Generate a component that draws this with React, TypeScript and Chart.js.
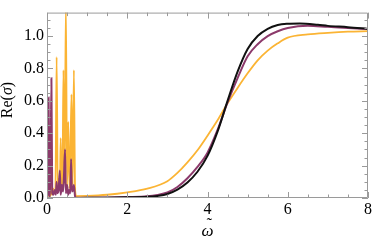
import React, { useEffect, useRef } from "react";
import { Chart, registerables } from "chart.js";

Chart.register(...registerables);

// ---- data ----
const blackX = [0, 0.5, 1, 1.5, 2, 2.5, 2.75, 3, 3.25, 3.5, 3.75, 4, 4.25, 4.5, 4.75, 5, 5.25, 5.5, 5.75, 6, 6.3, 6.75, 7, 7.5, 8];
const blackY = [0, 0, 0.001, 0.002, 0.004, 0.007, 0.013, 0.025, 0.052, 0.096, 0.162, 0.26, 0.41, 0.6, 0.78, 0.92, 1.0, 1.045, 1.068, 1.076, 1.078, 1.07, 1.063, 1.055, 1.044];

const purpleX = [0, 0.02, 0.04, 0.06, 0.08, 0.11, 0.13, 0.16, 0.19, 0.22, 0.24, 0.26, 0.29, 0.32, 0.34, 0.37, 0.4, 0.42, 0.45, 0.47, 0.5, 0.53, 0.55, 0.58, 0.6, 0.62, 0.65, 0.67, 0.7, 0.73,
  1, 1.5, 2, 2.5, 2.75, 3, 3.25, 3.5, 3.75, 4, 4.25, 4.5, 4.75, 5, 5.25, 5.5, 5.75, 6, 6.5, 7, 7.5, 8];
const purpleY = [0, 0.05, 0.62, 0.02, 0.01, 0.74, 0.03, 0.02, 0.05, 0.02, 0.1, 0.03, 0.05, 0.17, 0.02, 0.08, 0.04, 0.12, 0.3, 0.03, 0.08, 0.02, 0.05, 0.03, 0.24, 0.04, 0.05, 0.08, 0.01, 0.002,
  0.002, 0.003, 0.006, 0.011, 0.019, 0.034, 0.068, 0.122, 0.192, 0.28, 0.42, 0.59, 0.74, 0.875, 0.95, 1.0, 1.03, 1.05, 1.064, 1.057, 1.05, 1.044];

const orangeX = [0, 0.04, 0.08, 0.1, 0.12, 0.15, 0.18, 0.21, 0.24, 0.27, 0.3, 0.32, 0.34, 0.37, 0.39, 0.41, 0.44, 0.47, 0.5, 0.53, 0.56, 0.58, 0.61, 0.64, 0.67, 0.7, 0.73,
  1, 1.5, 2, 2.5, 3, 3.25, 3.5, 3.75, 4, 4.25, 4.5, 4.75, 5, 5.25, 5.5, 5.75, 6, 6.5, 7, 7.5, 8];
const orangeY = [0, 0.02, 0.01, 0.08, 0.02, 0.06, 0.03, 0.05, 0.87, 0.04, 0.12, 0.05, 0.37, 0.06, 0.2, 0.79, 0.1, 1.2, 0.07, 0.47, 0.06, 0.2, 0.64, 0.08, 0.79, 0.05, 0.012,
  0.013, 0.02, 0.035, 0.058, 0.104, 0.155, 0.22, 0.295, 0.385, 0.48, 0.585, 0.68, 0.77, 0.85, 0.91, 0.955, 0.99, 1.01, 1.02, 1.027, 1.03];

const xTicks = [0, 2, 4, 6, 8];
const yTicks = [0, 0.2, 0.4, 0.6, 0.8, 1.0];
const xMinorStep = 0.5;
const yMinorStep = 0.05;
const xTitleBase = "\u03C9";
const xTitleAccent = "\u02DC";
const yTitleParts = ["Re(", "\u03C3", ")"];

const FONT = "'Liberation Serif', 'DejaVu Serif', serif";

const pts = (xs: number[], ys: number[]) => xs.map((x, i) => ({ x, y: ys[i] }));

const framePlugin = {
  id: "frame",
  afterDatasetsDraw(chart: any) {
    const { ctx, chartArea: a, scales } = chart;
    const xs = scales.x;
    const ys = scales.y;
    ctx.save();
    ctx.strokeStyle = "#9a9a9a";
    ctx.lineWidth = 1;
    ctx.beginPath();
    ctx.rect(a.left + 0.5, a.top + 0.5, a.right - a.left - 1, a.bottom - a.top - 1);
    ctx.stroke();
    ctx.beginPath();
    for (let v = 0; v <= 8 + 1e-9; v += xMinorStep) {
      const major = xTicks.some((t) => Math.abs(t - v) < 1e-9);
      const len = major ? 6 : 3.5;
      const px = Math.round(xs.getPixelForValue(v)) + 0.5;
      ctx.moveTo(px, a.bottom);
      ctx.lineTo(px, a.bottom - len);
      ctx.moveTo(px, a.top);
      ctx.lineTo(px, a.top + len);
    }
    for (let v = 0; v <= ys.max + 1e-9; v += yMinorStep) {
      const major = yTicks.some((t) => Math.abs(t - v) < 1e-9);
      const len = major ? 6 : 3.5;
      const py = Math.round(ys.getPixelForValue(v)) + 0.5;
      ctx.moveTo(a.left, py);
      ctx.lineTo(a.left + len, py);
      ctx.moveTo(a.right, py);
      ctx.lineTo(a.right - len, py);
    }
    ctx.stroke();
    ctx.restore();
  },
  afterDraw(chart: any) {
    const { ctx, chartArea: a } = chart;
    ctx.save();
    ctx.fillStyle = "#000";
    ctx.textBaseline = "middle";
    ctx.textAlign = "center";
    ctx.font = `italic 17px ${FONT}`;
    const cx = (a.left + a.right) / 2;
    ctx.fillText(xTitleBase, cx, 232);
    ctx.font = `italic 16px ${FONT}`;
    ctx.fillText(xTitleAccent, cx + 1, 225);
    // y title
    ctx.translate(8, 100);
    ctx.rotate(-Math.PI / 2);
    const fonts = [`16px ${FONT}`, `italic 16px ${FONT}`, `16px ${FONT}`];
    let total = 0;
    const widths = yTitleParts.map((p, i) => {
      ctx.font = fonts[i];
      const w = ctx.measureText(p).width;
      total += w;
      return w;
    });
    let x = -total / 2;
    ctx.textAlign = "left";
    yTitleParts.forEach((p, i) => {
      ctx.font = fonts[i];
      ctx.fillText(p, x, 0);
      x += widths[i];
    });
    ctx.restore();
  },
};

export default function App() {
  const ref = useRef<HTMLCanvasElement | null>(null);
  useEffect(() => {
    if (!ref.current) return;
    const common = { pointRadius: 0, fill: false, cubicInterpolationMode: "monotone" as const };
    const chart = new Chart(ref.current, {
      type: "line",
      data: {
        datasets: [
          { ...common, data: pts(blackX, blackY), borderColor: "#111111", borderWidth: 2 },
          { ...common, data: pts(purpleX, purpleY), borderColor: "#8c3a6b", borderWidth: 2 },
          { ...common, data: pts(orangeX, orangeY), borderColor: "#fbb434", borderWidth: 1.8 },
        ],
      },
      options: {
        animation: false,
        responsive: false,
        devicePixelRatio: 1,
        parsing: false as any,
        layout: { padding: { top: 0, right: 4, left: 0, bottom: 0 } },
        plugins: { legend: { display: false }, tooltip: { enabled: false } },
        scales: {
          x: {
            type: "linear",
            min: 0,
            max: 8,
            border: { display: false },
            grid: { display: false, drawTicks: false },
            afterBuildTicks: (s: any) => { s.ticks = xTicks.map((v) => ({ value: v })); },
            afterFit: (s: any) => { s.height = 44; },
            ticks: {
              padding: 2,
              color: "#000",
              maxRotation: 0,
              font: { family: FONT, size: 16 },
              callback: (v: any) => String(v),
            },
          },
          y: {
            type: "linear",
            min: 0,
            max: 1.145,
            border: { display: false },
            grid: { display: false, drawTicks: false },
            afterBuildTicks: (s: any) => { s.ticks = yTicks.map((v) => ({ value: v })); },
            afterFit: (s: any) => { s.width = 47; },
            ticks: {
              padding: 3,
              color: "#000",
              font: { family: FONT, size: 16 },
              callback: (v: any) => Number(v).toFixed(1),
            },
          },
        },
      },
      plugins: [framePlugin],
    });
    return () => chart.destroy();
  }, []);
  return (
    <div style={{ position: "absolute", left: 0, top: 0, width: 374, height: 242, background: "#fff" }}>
      <canvas ref={ref} width={374} height={242} style={{ display: "block" }} />
    </div>
  );
}
